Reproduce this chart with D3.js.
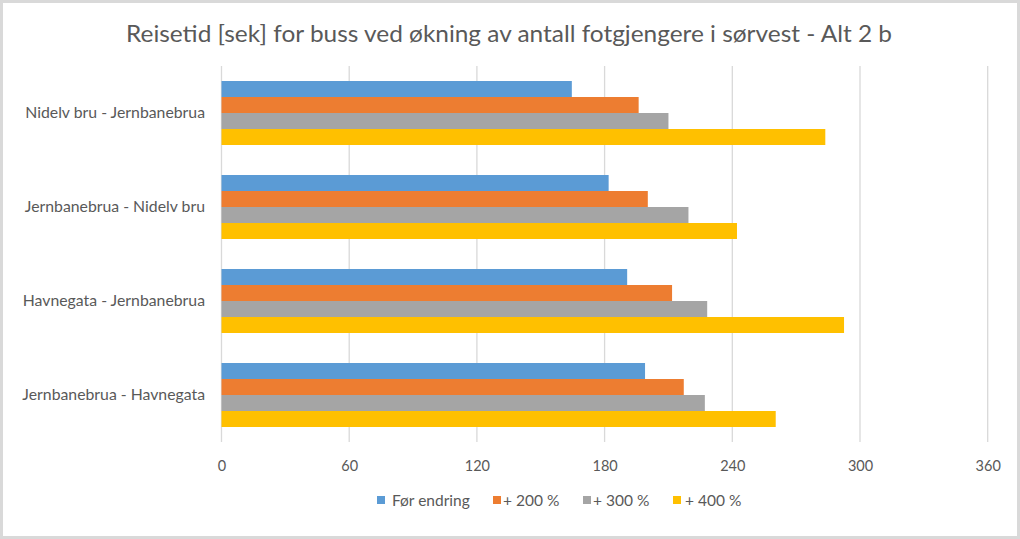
<!DOCTYPE html>
<html><head><meta charset="utf-8">
<script src="https://cdn.jsdelivr.net/npm/d3@7"></script>
<style>html,body{margin:0;padding:0;background:#fff;}svg{display:block;}</style>
</head><body>
<script>
const title = "Reisetid [sek] for buss ved økning av antall fotgjengere i sørvest - Alt 2 b";
const categories = ["Nidelv bru - Jernbanebrua", "Jernbanebrua - Nidelv bru", "Havnegata - Jernbanebrua", "Jernbanebrua - Havnegata"];
const seriesNames = ["Før endring", "+ 200 %", "+ 300 %", "+ 400 %"];
const seriesColors = ["#5b9bd5", "#ed7d31", "#a5a5a5", "#ffc000"];
const forEndring = [164.6, 181.9, 190.6, 199];
const plus200 = [196, 200.3, 211.7, 217.2];
const plus300 = [210, 219.4, 228.2, 227.1];
const plus400 = [283.7, 242.2, 292.5, 260.4];
const tickValues = [0, 60, 120, 180, 240, 300, 360];
const seriesValues = [forEndring, plus200, plus300, plus400];

(function(){
const W = 1020, H = 539;
const svg = d3.select("body").append("svg").attr("width", W).attr("height", H);
svg.append("rect").attr("x", 1.5).attr("y", 1.5).attr("width", W - 3).attr("height", H - 3)
  .attr("fill", "#fff").attr("stroke", "#d9d9d9").attr("stroke-width", 3);

const font = "Lato, 'Open Sans', sans-serif";
const pLeft = 221.5, pRight = 987.7, pTop = 66, pBottom = 442;
const x = d3.scaleLinear().domain([0, 360]).range([pLeft, pRight]);
const y0 = d3.scaleBand().domain(categories).range([pTop, pBottom]).paddingInner(30/94).paddingOuter(15/94);
const y1 = d3.scaleBand().domain(seriesNames).range([0, y0.bandwidth()]);

// gridlines
svg.append("g").selectAll("line").data(tickValues).join("line")
  .attr("x1", d => x(d)).attr("x2", d => x(d)).attr("y1", pTop).attr("y2", pBottom)
  .attr("stroke", "#d9d9d9").attr("stroke-width", 1.3);

// bars
const groups = svg.append("g").selectAll("g").data(categories).join("g")
  .attr("transform", c => `translate(0,${y0(c)})`);
groups.selectAll("rect").data((c, i) => seriesNames.map((s, j) => ({s, j, v: seriesValues[j][i]})))
  .join("rect")
  .attr("x", x(0)).attr("y", d => y1(d.s)).attr("height", y1.bandwidth())
  .attr("width", d => x(d.v) - x(0)).attr("fill", d => seriesColors[d.j]);

// x axis labels
const xAxis = d3.axisBottom(x).tickValues(tickValues).tickSize(0).tickPadding(0);
const gx = svg.append("g").attr("transform", `translate(0,${pBottom + 29})`).call(xAxis);
gx.select(".domain").remove();
gx.selectAll("text").attr("font-family", font).attr("font-size", 14.5).attr("fill", "#595959").attr("dy", 0);

// y axis labels
const yAxis = d3.axisLeft(y0).tickSize(0).tickPadding(0);
const gy = svg.append("g").attr("transform", `translate(205,0)`).call(yAxis);
gy.select(".domain").remove();
gy.selectAll("text").attr("font-family", font).attr("font-size", 15.8).attr("fill", "#595959");

// title
svg.append("text").attr("x", 509).attr("y", 42).attr("text-anchor", "middle")
  .attr("font-family", font).attr("font-size", 22.5).attr("fill", "#595959")
  .attr("textLength", 766).attr("lengthAdjust", "spacingAndGlyphs").text(title);

// legend
const swatchX = [377, 493, 583, 673];
const textX = [392, 503, 593, 685];
const lg = svg.append("g").selectAll("g").data(seriesNames).join("g");
lg.append("rect").attr("x", (d, i) => swatchX[i]).attr("y", 496).attr("width", 8).attr("height", 8)
  .attr("fill", (d, i) => seriesColors[i]);
lg.append("text").attr("x", (d, i) => textX[i]).attr("y", 505.5)
  .attr("font-family", font).attr("font-size", 15.5).attr("fill", "#595959").text(d => d);
})();
</script>
</body></html>
